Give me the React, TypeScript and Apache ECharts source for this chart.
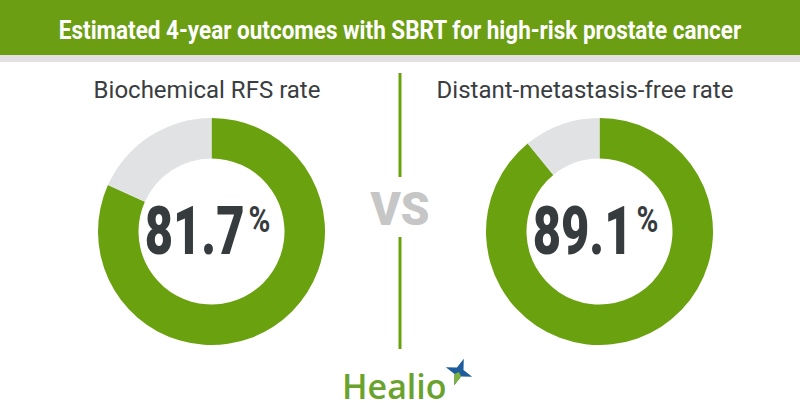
import React, { useEffect, useRef } from "react";
import * as echarts from "echarts";

const TITLE = "Estimated 4-year outcomes with SBRT for high-risk prostate cancer";
const CHART_LABELS = ["Biochemical RFS rate", "Distant-metastasis-free rate"];
const RATES = [81.7, 89.1];
const SEGMENT_NAMES = ["Rate", "Remainder"];
const BRAND = "Healio";

const GREEN = "#6aa10f";
const HEADER_GREEN = "#6b9e12";
const GRAY = "#e1e2e4";
const DARK = "#363b3e";

export default function App() {
  const ref = useRef<HTMLDivElement>(null);

  useEffect(() => {
    document.body.style.margin = "0";
    const chart = echarts.init(ref.current!, null, { renderer: "svg" });
    const centers = [
      [211.5, 231.5],
      [599.5, 231.5],
    ];
    const subCenters = [207, 585];

    const series = RATES.map((r, i) => ({
      type: "pie",
      center: centers[i],
      radius: [73, 113.5],
      startAngle: 90,
      clockwise: true,
      silent: true,
      label: { show: false },
      labelLine: { show: false },
      itemStyle: { borderWidth: 0 },
      data: [
        { name: SEGMENT_NAMES[0], value: r, itemStyle: { color: GREEN } },
        {
          name: SEGMENT_NAMES[1],
          value: +(100 - r).toFixed(1),
          itemStyle: { color: GRAY },
        },
      ],
    }));

    const graphics: any[] = [
      { type: "rect", shape: { x: 0, y: 0, width: 800, height: 55 }, style: { fill: HEADER_GREEN }, silent: true },
      { type: "rect", shape: { x: 0, y: 55, width: 800, height: 7 }, style: { fill: "#e3e1e4" }, silent: true },
      {
        type: "text",
        x: 400,
        y: 31,
        scaleX: 0.9,
        style: {
          text: TITLE,
          font: "bold 25px Roboto",
          fill: "#ffffff",
          align: "center",
          verticalAlign: "middle",
        },
      },
      { type: "line", shape: { x1: 400, y1: 73, x2: 400, y2: 177 }, style: { stroke: GREEN, lineWidth: 3 } },
      { type: "line", shape: { x1: 400, y1: 237, x2: 400, y2: 349 }, style: { stroke: GREEN, lineWidth: 3 } },
      {
        type: "text",
        x: 400,
        y: 209,
        style: {
          text: "VS",
          font: "900 46px Roboto",
          fill: "#c6c6c6",
          align: "center",
          verticalAlign: "middle",
        },
      },
      {
        type: "text",
        x: 342,
        y: 386,
        style: {
          text: BRAND,
          font: "600 34px 'Open Sans'",
          fill: "#6aa22e",
          align: "left",
          verticalAlign: "middle",
        },
      },
      {
        type: "polygon",
        x: 459,
        y: 372,
        rotation: -0.35,
        shape: {
          points: [
            [0, -14], [3.5, -3.5], [14, 0], [3.5, 3.5], [0, 14], [-3.5, 3.5], [-14, 0], [-3.5, -3.5],
          ],
        },
        style: { fill: "#1f5c9c" },
      },
      {
        type: "polygon",
        x: 459,
        y: 372,
        rotation: -0.35,
        shape: { points: [[0, 0], [3.5, 3.5], [0, 14], [-3.5, 3.5]] },
        style: { fill: "#7fb43a" },
      },
    ];

    RATES.forEach((r, i) => {
      const [cx, cy] = centers[i];
      graphics.push({
        type: "text",
        x: subCenters[i],
        y: 90,
        style: {
          text: CHART_LABELS[i],
          font: "24px Roboto",
          fill: "#3a3d3f",
          align: "center",
          verticalAlign: "middle",
        },
      });
      graphics.push({
        type: "text",
        x: cx + 33,
        y: cy,
        scaleX: 0.73,
        style: {
          text: r.toFixed(1),
          font: "900 67px Roboto",
          fill: DARK,
          align: "right",
          verticalAlign: "middle",
        },
      });
      graphics.push({
        type: "text",
        x: cx + 37,
        y: cy - 12,
        scaleX: 0.8,
        style: {
          text: "%",
          font: "bold 37px Roboto",
          fill: DARK,
          align: "left",
          verticalAlign: "middle",
        },
      });
    });

    chart.setOption({
      animation: false,
      backgroundColor: "#ffffff",
      series,
      graphic: graphics,
    });
    return () => chart.dispose();
  }, []);

  return <div ref={ref} style={{ width: 800, height: 420 }} />;
}
